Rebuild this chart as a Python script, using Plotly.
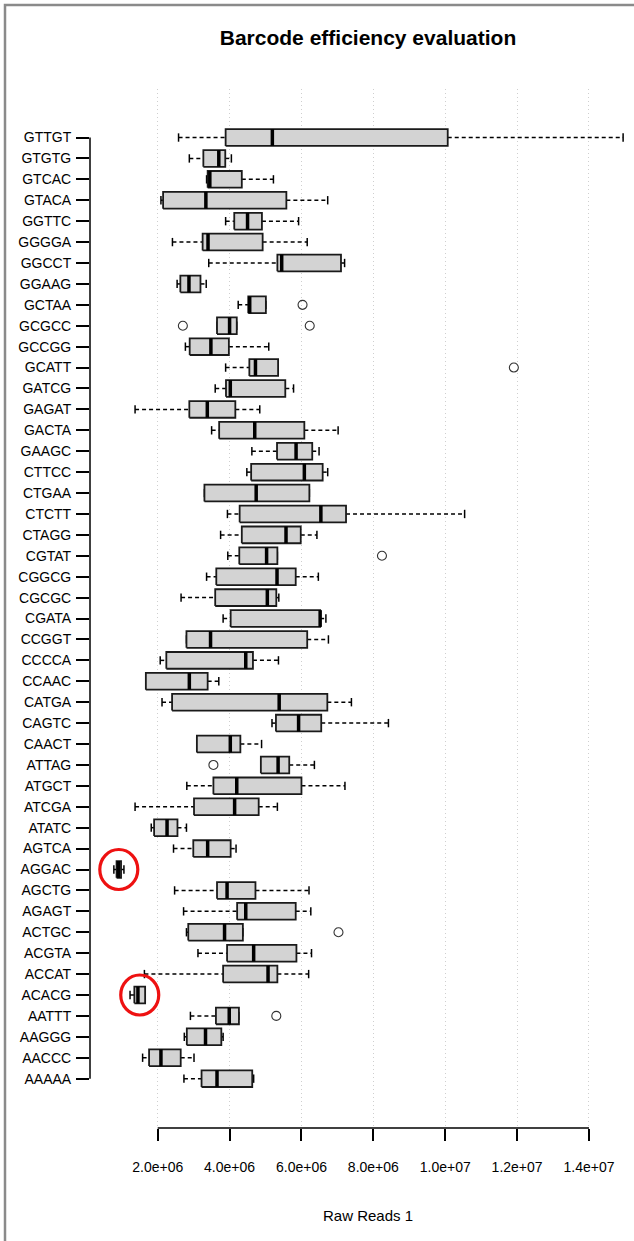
import plotly.graph_objects as go

# Barcodes, listed bottom-to-top as they appear on the vertical axis
barcodes = [
    "AAAAA", "AACCC", "AAGGG", "AATTT", "ACACG", "ACCAT", "ACGTA", "ACTGC",
    "AGAGT", "AGCTG", "AGGAC", "AGTCA", "ATATC", "ATCGA", "ATGCT", "ATTAG",
    "CAACT", "CAGTC", "CATGA", "CCAAC", "CCCCA", "CCGGT", "CGATA", "CGCGC",
    "CGGCG", "CGTAT", "CTAGG", "CTCTT", "CTGAA", "CTTCC", "GAAGC", "GACTA",
    "GAGAT", "GATCG", "GCATT", "GCCGG", "GCGCC", "GCTAA", "GGAAG", "GGCCT",
    "GGGGA", "GGTTC", "GTACA", "GTCAC", "GTGTG", "GTTGT",
]

# Five-number summaries of raw reads (millions)
whisker_low = [
    2.73, 1.58, 2.74, 2.91, 1.23, 1.63, 3.12, 2.80,
    2.72, 2.47, 0.78, 2.44, 1.82, 1.37, 2.81, 4.87,
    3.09, 5.18, 2.12, 1.67, 2.07, 2.80, 3.82, 2.65,
    3.36, 3.95, 3.75, 3.94, 3.30, 4.48, 4.62, 3.50,
    1.37, 3.60, 3.89, 2.77, 3.65, 4.24, 2.54, 3.42,
    2.41, 3.89, 2.09, 3.36, 2.88, 2.58,
]
quartile_1 = [
    3.22, 1.76, 2.81, 3.62, 1.35, 3.82, 3.93, 2.85,
    4.21, 3.65, 0.855, 2.99, 1.90, 3.01, 3.55, 4.87,
    3.09, 5.29, 2.40, 1.67, 2.24, 2.80, 4.03, 3.60,
    3.63, 4.27, 4.34, 4.28, 3.30, 4.60, 5.32, 3.71,
    2.88, 3.90, 4.55, 2.89, 3.65, 4.52, 2.63, 5.33,
    3.25, 4.13, 2.15, 3.39, 3.27, 3.89,
]
medians = [
    3.65, 2.09, 3.33, 3.99, 1.45, 5.07, 4.67, 3.86,
    4.45, 3.93, 0.91, 3.39, 2.26, 4.14, 4.20, 5.35,
    4.02, 5.92, 5.38, 2.88, 4.45, 3.47, 6.52, 5.05,
    5.32, 5.03, 5.57, 6.54, 4.74, 6.08, 5.85, 4.70,
    3.38, 4.02, 4.72, 3.48, 4.00, 4.56, 2.87, 5.45,
    3.40, 4.50, 3.34, 3.45, 3.70, 5.19,
]
quartile_3 = [
    4.63, 2.64, 3.77, 4.26, 1.65, 5.33, 5.86, 4.37,
    5.84, 4.72, 0.98, 4.03, 2.55, 4.81, 6.00, 5.66,
    4.30, 6.55, 6.72, 3.39, 4.65, 6.16, 6.52, 5.30,
    5.84, 5.33, 5.98, 7.24, 6.22, 6.59, 6.30, 6.08,
    4.16, 5.55, 5.35, 3.98, 4.20, 5.01, 3.19, 7.10,
    4.92, 4.90, 5.58, 4.34, 3.88, 10.07,
]
whisker_high = [
    4.67, 3.01, 3.82, 4.26, 1.65, 6.20, 6.28, 4.37,
    6.26, 6.21, 1.06, 4.18, 2.80, 5.33, 7.21, 6.36,
    4.89, 8.42, 7.39, 3.70, 5.36, 6.75, 6.68, 5.37,
    6.47, 5.33, 6.43, 10.54, 6.22, 6.73, 6.49, 7.02,
    4.84, 5.78, 5.35, 5.09, 4.20, 5.01, 3.35, 7.20,
    6.16, 5.92, 6.73, 5.22, 4.05, 14.95,
]

# Outlying samples (millions)
outlier_barcode = ["AATTT", "ACTGC", "ATTAG", "CGTAT", "GCATT", "GCGCC", "GCGCC", "GCTAA"]
outlier_value = [5.30, 7.03, 3.55, 8.24, 11.91, 2.70, 6.23, 6.03]

# Barcodes flagged as under-performing
flagged = ["AGGAC", "ACACG"]

tick_values = [2.0e6, 4.0e6, 6.0e6, 8.0e6, 1.0e7, 1.2e7, 1.4e7]
tick_labels = ["2.0e+06", "4.0e+06", "6.0e+06", "8.0e+06", "1.0e+07", "1.2e+07", "1.4e+07"]

M = 1e6
BOX_HALF = 0.4
STAPLE_HALF = 0.2
FONT = "Liberation Sans, Arial, sans-serif"

pos = {b: i + 1 for i, b in enumerate(barcodes)}

wx, wy, sx, sy, bx, by, mx, my = [], [], [], [], [], [], [], []
for b, lo, q1, md, q3, hi in zip(barcodes, whisker_low, quartile_1, medians, quartile_3, whisker_high):
    p = pos[b]
    # dashed whiskers
    wx += [lo * M, q1 * M, None, q3 * M, hi * M, None]
    wy += [p, p, None, p, p, None]
    # staples
    sx += [lo * M, lo * M, None, hi * M, hi * M, None]
    sy += [p - STAPLE_HALF, p + STAPLE_HALF, None, p - STAPLE_HALF, p + STAPLE_HALF, None]
    # box outline
    bx += [q1 * M, q3 * M, q3 * M, q1 * M, q1 * M, None]
    by += [p - BOX_HALF, p - BOX_HALF, p + BOX_HALF, p + BOX_HALF, p - BOX_HALF, None]
    # median bar
    mx += [md * M, md * M, None]
    my += [p - BOX_HALF, p + BOX_HALF, None]

fig = go.Figure()
fig.add_trace(go.Scatter(x=wx, y=wy, mode="lines", hoverinfo="skip",
                         line=dict(color="black", width=1.5, dash="4px,3px")))
fig.add_trace(go.Scatter(x=sx, y=sy, mode="lines", hoverinfo="skip",
                         line=dict(color="black", width=1.5)))
fig.add_trace(go.Scatter(x=bx, y=by, mode="lines", fill="toself", fillcolor="#d3d3d3",
                         hoverinfo="skip", line=dict(color="#1a1a1a", width=1.8)))
fig.add_trace(go.Scatter(x=mx, y=my, mode="lines", hoverinfo="skip",
                         line=dict(color="black", width=3.5)))
fig.add_trace(go.Scatter(x=[v * M for v in outlier_value],
                         y=[pos[b] for b in outlier_barcode], mode="markers",
                         marker=dict(symbol="circle-open", size=9, color="#333333",
                                     line=dict(width=1.1))))

shapes = []
# red rings around flagged barcodes
for b in flagged:
    i = barcodes.index(b)
    shapes.append(dict(type="circle", xref="x", yref="y",
                       xsizemode="pixel", ysizemode="pixel",
                       xanchor=(quartile_1[i] + quartile_3[i]) / 2 * M, yanchor=pos[b],
                       x0=-19, x1=19, y0=-20, y1=20,
                       line=dict(color="#ee1111", width=3.2)))
# R-style axis lines spanning first to last tick
shapes.append(dict(type="line", xref="x", yref="paper", x0=tick_values[0], x1=tick_values[-1],
                   y0=0, y1=0, line=dict(color="black", width=1.5)))
shapes.append(dict(type="line", xref="paper", yref="y", x0=0, x1=0, y0=1, y1=len(barcodes),
                   line=dict(color="black", width=1.5)))
# page frame
shapes.append(dict(type="rect", xref="paper", yref="paper",
                   x0=-85 / 544, x1=1.2, y0=-0.2, y1=1 + 84 / 1039,
                   line=dict(color="#8a8a8a", width=2.5)))

fig.update_layout(
    width=634, height=1241,
    margin=dict(l=90, r=0, t=89, b=113),
    paper_bgcolor="white", plot_bgcolor="white",
    showlegend=False,
    shapes=shapes,
    font=dict(family=FONT, color="black"),
    title=dict(text="<b>Barcode efficiency evaluation</b>", xref="paper", x=(368 - 90) / 544,
               xanchor="center", y=1 - 38 / 1241, yanchor="middle",
               font=dict(family=FONT, size=21, color="black")),
    xaxis=dict(range=[0.116e6, 15.253e6], tickvals=tick_values, ticktext=tick_labels,
               showgrid=True, gridcolor="#cfcfcf", griddash="1px,3px", gridwidth=1,
               zeroline=False, showline=False, ticks="outside", ticklen=12, tickwidth=1.5,
               tickcolor="black", ticklabelstandoff=14,
               tickfont=dict(family=FONT, size=14, color="black")),
    yaxis=dict(range=[-1.36, 48.32], tickvals=list(range(1, len(barcodes) + 1)),
               ticktext=barcodes, showgrid=False, zeroline=False, showline=False,
               ticks="outside", ticklen=13, tickwidth=1.5, tickcolor="black",
               ticklabelstandoff=2,
               tickfont=dict(family=FONT, size=14, color="black")),
    annotations=[dict(text="Raw Reads 1", xref="paper", yref="paper",
                      x=(368 - 90) / 544, y=-(1215 - 1128) / 1039,
                      xanchor="center", yanchor="middle", showarrow=False,
                      font=dict(family=FONT, size=15, color="black"))],
)

fig.write_html("out.html")
